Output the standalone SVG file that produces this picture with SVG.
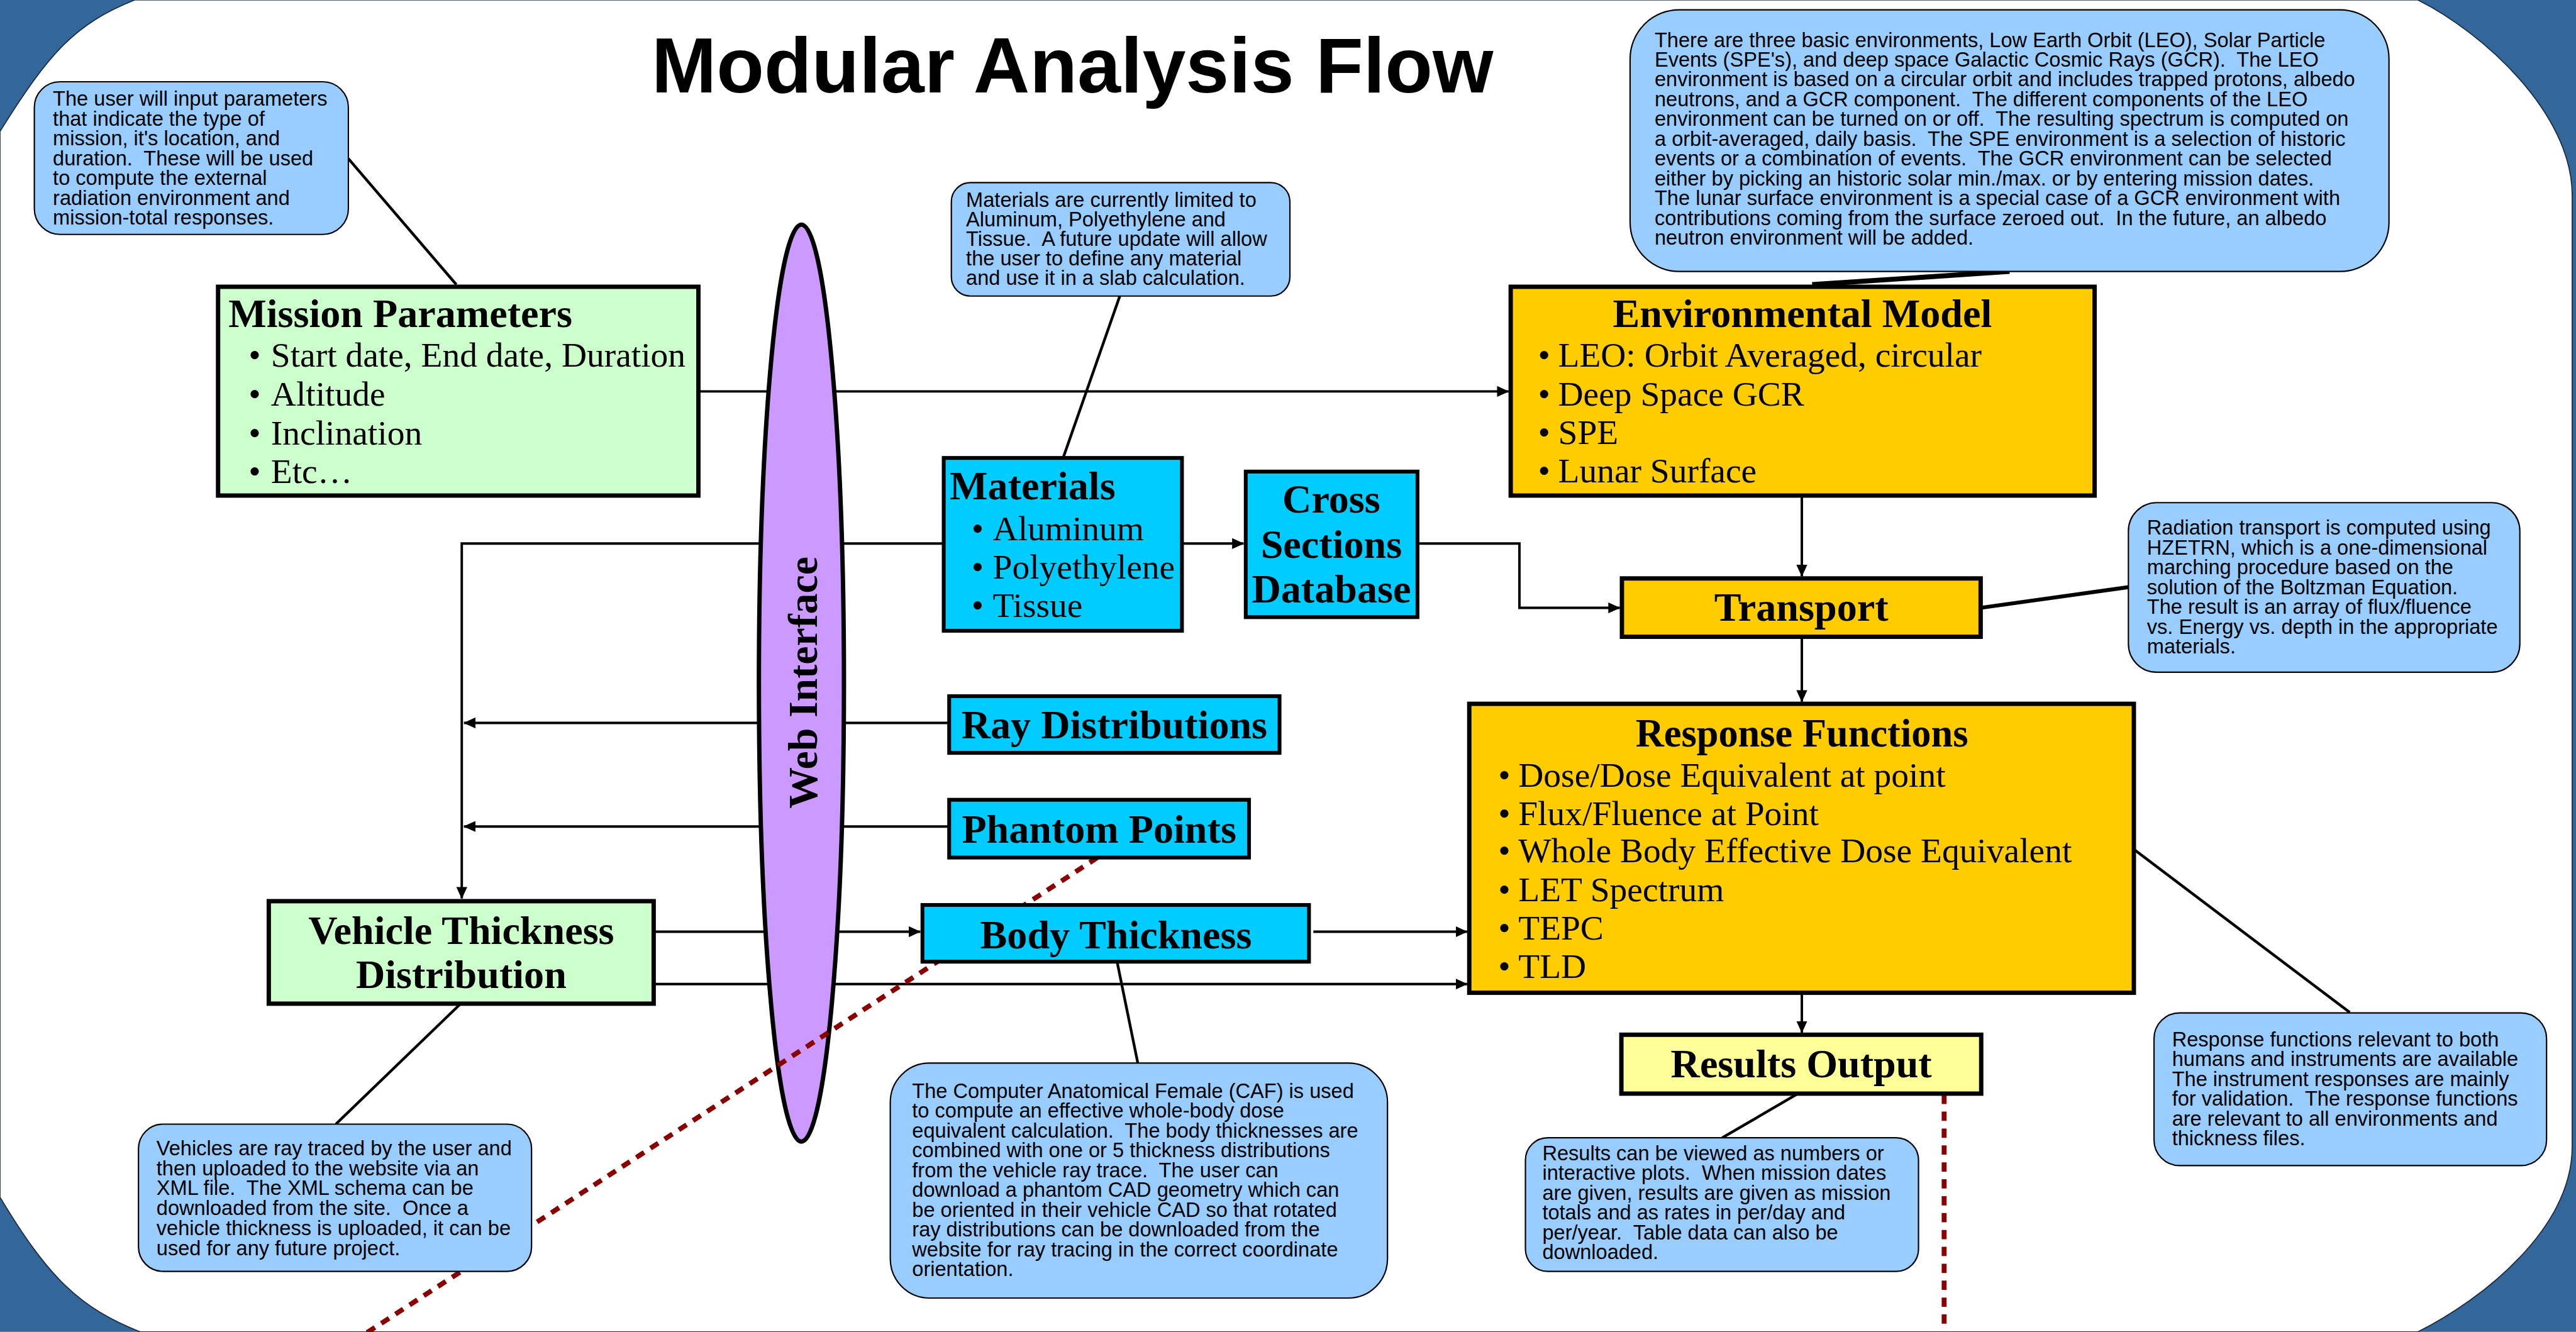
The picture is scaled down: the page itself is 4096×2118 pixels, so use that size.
<svg xmlns="http://www.w3.org/2000/svg" width="4096" height="2118" viewBox="0 0 4096 2118">
<style>
.bg{fill:#336699}
.page{fill:#ffffff;stroke:#1a2a40;stroke-width:2}
.title{font-family:"Liberation Sans",Arial,sans-serif;font-weight:bold;font-size:143px;fill:#000}
.box{stroke:#000;stroke-width:8}
.cbox{stroke:#000;stroke-width:7}
.green{fill:#CCFFCC}
.gold{fill:#FFCC00}
.cyan{fill:#00CCFF}
.pale{fill:#FFFF99}
.hd{font-family:"Liberation Serif","Times New Roman",serif;font-weight:bold;font-size:74px;fill:#000}
.bl{font-family:"Liberation Serif","Times New Roman",serif;font-size:64px;fill:#000}
.call rect{fill:#99CCFF;stroke:#000;stroke-width:2.5}
.ct{font-family:"Liberation Sans",Arial,sans-serif;font-size:37.6px;fill:#000;white-space:pre}
.conn{stroke:#000;stroke-width:4.5;fill:none}
.ptr{stroke:#000;stroke-width:5;fill:none}
.dash{stroke:#880000;stroke-width:9;fill:none;stroke-dasharray:17 14}
.mid{text-anchor:middle}
</style>
<defs>
<marker id="arr" markerUnits="userSpaceOnUse" markerWidth="22" markerHeight="20" refX="21" refY="10" orient="auto">
<path d="M0,0 L22,10 L0,20 z" fill="#000"/>
</marker>
</defs>
<g transform="scale(0.866878)">
<rect class="bg" x="0" y="0" width="4725" height="2443"/>
<path class="page" d="M0,241 C90,97 137,44 247,0 L4435,0 C4555,60 4718,208 4718,358 L4718,2103 C4718,2253 4555,2383 4435,2443 L257,2443 C147,2399 90,2346 0,2196 Z"/>

<text class="title mid" x="1967" y="170">Modular Analysis Flow</text>

<g id="connectors">
<path class="conn" d="M1281,718 L2767,718" marker-end="url(#arr)"/>
<path class="conn" d="M1731,997 L847,997 L847,1648" marker-end="url(#arr)"/>
<path class="conn" d="M1741,1326 L851,1326" marker-end="url(#arr)"/>
<path class="conn" d="M1741,1516 L851,1516" marker-end="url(#arr)"/>
<path class="conn" d="M2168,997 L2281,997" marker-end="url(#arr)"/>
<path class="conn" d="M2600,997 L2787,997 L2787,1115 L2971,1115" marker-end="url(#arr)"/>
<path class="conn" d="M3305,909 L3305,1057" marker-end="url(#arr)"/>
<path class="conn" d="M3305,1168 L3305,1287" marker-end="url(#arr)"/>
<path class="conn" d="M3305,1821 L3305,1894" marker-end="url(#arr)"/>
<path class="conn" d="M1199,1709 L1688,1709" marker-end="url(#arr)"/>
<path class="conn" d="M1199,1805 L2691,1805" marker-end="url(#arr)"/>
<path class="conn" d="M2409,1709 L2691,1709" marker-end="url(#arr)"/>
<line class="ptr" x1="639" y1="291" x2="837" y2="522"/>
<line class="ptr" x1="2054" y1="543" x2="1950" y2="840"/>
<line class="ptr" x1="3686" y1="498" x2="3324" y2="522" style="stroke-width:9"/>
<line class="ptr" x1="3633" y1="1115" x2="3904" y2="1077" style="stroke-width:7"/>
<line class="ptr" x1="3914" y1="1558" x2="4310" y2="1857"/>
<line class="ptr" x1="3298" y1="2006" x2="3159" y2="2087"/>
<line class="ptr" x1="2049" y1="1764" x2="2087" y2="1950"/>
<line class="ptr" x1="844" y1="1842" x2="616" y2="2062"/>
</g>

<g id="web-interface">
<ellipse cx="1470" cy="1253" rx="78" ry="841" fill="#CC99FF" stroke="#000" stroke-width="8"/>
<text class="hd mid" transform="translate(1499,1252) rotate(-90)" style="font-size:76px">Web Interface</text>
</g>

<g id="dashed-lines">
<line class="dash" x1="3566" y1="2008" x2="3566" y2="2443"/>
<line class="dash" x1="2013" y1="1573" x2="600" y2="2492"/>
</g>

<g id="note-mission" class="call">
<rect x="63" y="150" width="576" height="280" rx="47"/>
<text class="ct" x="97" y="194"><tspan x="97">The user will input parameters</tspan><tspan x="97" dy="36.3">that indicate the type of</tspan><tspan x="97" dy="36.3">mission, it's location, and</tspan><tspan x="97" dy="36.3">duration.  These will be used</tspan><tspan x="97" dy="36.3">to compute the external</tspan><tspan x="97" dy="36.3">radiation environment and</tspan><tspan x="97" dy="36.3">mission-total responses.</tspan></text>
</g>

<g id="mission-parameters">
<rect class="box green" x="400" y="526" width="881" height="383"/>
<text class="hd" x="419" y="600">Mission Parameters</text>
<text class="bl"><tspan x="456" y="673">•</tspan><tspan x="497" y="673">Start date, End date, Duration</tspan><tspan x="456" y="744">•</tspan><tspan x="497" y="744">Altitude</tspan><tspan x="456" y="815">•</tspan><tspan x="497" y="815">Inclination</tspan><tspan x="456" y="886">•</tspan><tspan x="497" y="886">Etc…</tspan></text>
</g>

<g id="note-materials" class="call">
<rect x="1745" y="335" width="621" height="208" rx="35"/>
<text class="ct" x="1772" y="379"><tspan x="1772">Materials are currently limited to</tspan><tspan x="1772" dy="35.8">Aluminum, Polyethylene and</tspan><tspan x="1772" dy="35.8">Tissue.  A future update will allow</tspan><tspan x="1772" dy="35.8">the user to define any material</tspan><tspan x="1772" dy="35.8">and use it in a slab calculation.</tspan></text>
</g>

<g id="materials">
<rect class="cbox cyan" x="1731" y="840" width="437" height="317"/>
<text class="hd" x="1742" y="916">Materials</text>
<text class="bl"><tspan x="1782" y="991">•</tspan><tspan x="1821" y="991">Aluminum</tspan><tspan x="1782" y="1061">•</tspan><tspan x="1821" y="1061">Polyethylene</tspan><tspan x="1782" y="1132">•</tspan><tspan x="1821" y="1132">Tissue</tspan></text>
</g>

<g id="cross-sections">
<rect class="cbox cyan" x="2285" y="865" width="315" height="267"/>
<text class="hd mid"><tspan x="2442" y="940">Cross</tspan><tspan x="2442" y="1023">Sections</tspan><tspan x="2442" y="1105">Database</tspan></text>
</g>

<g id="ray-distributions">
<rect class="cbox cyan" x="1741" y="1277" width="606" height="104"/>
<text class="hd mid" x="2044" y="1354">Ray Distributions</text>
</g>

<g id="phantom-points">
<rect class="cbox cyan" x="1741" y="1467" width="550" height="106"/>
<text class="hd mid" x="2016" y="1546">Phantom Points</text>
</g>

<g id="body-thickness">
<rect class="cbox cyan" x="1692" y="1660" width="709" height="104"/>
<text class="hd mid" x="2047" y="1739">Body Thickness</text>
</g>

<g id="note-environment" class="call">
<rect x="2990" y="18" width="1392" height="480" rx="90"/>
<text class="ct" x="3035" y="86"><tspan x="3035">There are three basic environments, Low Earth Orbit (LEO), Solar Particle</tspan><tspan x="3035" dy="36.3">Events (SPE's), and deep space Galactic Cosmic Rays (GCR).  The LEO</tspan><tspan x="3035" dy="36.3">environment is based on a circular orbit and includes trapped protons, albedo</tspan><tspan x="3035" dy="36.3">neutrons, and a GCR component.  The different components of the LEO</tspan><tspan x="3035" dy="36.3">environment can be turned on or off.  The resulting spectrum is computed on</tspan><tspan x="3035" dy="36.3">a orbit-averaged, daily basis.  The SPE environment is a selection of historic</tspan><tspan x="3035" dy="36.3">events or a combination of events.  The GCR environment can be selected</tspan><tspan x="3035" dy="36.3">either by picking an historic solar min./max. or by entering mission dates.</tspan><tspan x="3035" dy="36.3">The lunar surface environment is a special case of a GCR environment with</tspan><tspan x="3035" dy="36.3">contributions coming from the surface zeroed out.  In the future, an albedo</tspan><tspan x="3035" dy="36.3">neutron environment will be added.</tspan></text>
</g>

<g id="environmental-model">
<rect class="box gold" x="2771" y="526" width="1071" height="383"/>
<text class="hd mid" x="3306" y="600">Environmental Model</text>
<text class="bl"><tspan x="2821" y="672">•</tspan><tspan x="2858" y="672">LEO: Orbit Averaged, circular</tspan><tspan x="2821" y="744">•</tspan><tspan x="2858" y="744">Deep Space GCR</tspan><tspan x="2821" y="814">•</tspan><tspan x="2858" y="814">SPE</tspan><tspan x="2821" y="885">•</tspan><tspan x="2858" y="885">Lunar Surface</tspan></text>
</g>

<g id="transport">
<rect class="box gold" x="2975" y="1061" width="658" height="107"/>
<text class="hd mid" x="3304" y="1139">Transport</text>
</g>

<g id="note-transport" class="call">
<rect x="3904" y="922" width="718" height="311" rx="52"/>
<text class="ct" x="3938" y="981"><tspan x="3938">Radiation transport is computed using</tspan><tspan x="3938" dy="36.3">HZETRN, which is a one-dimensional</tspan><tspan x="3938" dy="36.3">marching procedure based on the</tspan><tspan x="3938" dy="36.3">solution of the Boltzman Equation.</tspan><tspan x="3938" dy="36.3">The result is an array of flux/fluence</tspan><tspan x="3938" dy="36.3">vs. Energy vs. depth in the appropriate</tspan><tspan x="3938" dy="36.3">materials.</tspan></text>
</g>

<g id="response-functions">
<rect class="box gold" x="2695" y="1291" width="1219" height="530"/>
<text class="hd mid" x="3305" y="1369" style="font-size:72px">Response Functions</text>
<text class="bl"><tspan x="2748" y="1443">•</tspan><tspan x="2785" y="1443">Dose/Dose Equivalent at point</tspan><tspan x="2748" y="1513">•</tspan><tspan x="2785" y="1513">Flux/Fluence at Point</tspan><tspan x="2748" y="1582">•</tspan><tspan x="2785" y="1582">Whole Body Effective Dose Equivalent</tspan><tspan x="2748" y="1653">•</tspan><tspan x="2785" y="1653">LET Spectrum</tspan><tspan x="2748" y="1723">•</tspan><tspan x="2785" y="1723">TEPC</tspan><tspan x="2748" y="1794">•</tspan><tspan x="2785" y="1794">TLD</tspan></text>
</g>

<g id="note-response" class="call">
<rect x="3951" y="1858" width="720" height="280" rx="47"/>
<text class="ct" x="3984" y="1919"><tspan x="3984">Response functions relevant to both</tspan><tspan x="3984" dy="36.4">humans and instruments are available</tspan><tspan x="3984" dy="36.4">The instrument responses are mainly</tspan><tspan x="3984" dy="36.4">for validation.  The response functions</tspan><tspan x="3984" dy="36.4">are relevant to all environments and</tspan><tspan x="3984" dy="36.4">thickness files.</tspan></text>
</g>

<g id="results-output">
<rect class="box pale" x="2974" y="1898" width="660" height="108"/>
<text class="hd mid" x="3304" y="1976">Results Output</text>
</g>

<g id="note-results" class="call">
<rect x="2798" y="2087" width="721" height="245" rx="41"/>
<text class="ct" x="2829" y="2128"><tspan x="2829">Results can be viewed as numbers or</tspan><tspan x="2829" dy="36.4">interactive plots.  When mission dates</tspan><tspan x="2829" dy="36.4">are given, results are given as mission</tspan><tspan x="2829" dy="36.4">totals and as rates in per/day and</tspan><tspan x="2829" dy="36.4">per/year.  Table data can also be</tspan><tspan x="2829" dy="36.4">downloaded.</tspan></text>
</g>

<g id="vehicle-thickness">
<rect class="box green" x="493" y="1653" width="706" height="188"/>
<text class="hd mid"><tspan x="846" y="1731">Vehicle Thickness</tspan><tspan x="846" y="1812">Distribution</tspan></text>
</g>

<g id="note-vehicles" class="call">
<rect x="254" y="2062" width="721" height="270" rx="45"/>
<text class="ct" x="287" y="2119"><tspan x="287">Vehicles are ray traced by the user and</tspan><tspan x="287" dy="36.6">then uploaded to the website via an</tspan><tspan x="287" dy="36.6">XML file.  The XML schema can be</tspan><tspan x="287" dy="36.6">downloaded from the site.  Once a</tspan><tspan x="287" dy="36.6">vehicle thickness is uploaded, it can be</tspan><tspan x="287" dy="36.6">used for any future project.</tspan></text>
</g>

<g id="note-caf" class="call">
<rect x="1633" y="1950" width="912" height="431" rx="72"/>
<text class="ct" x="1673" y="2014"><tspan x="1673">The Computer Anatomical Female (CAF) is used</tspan><tspan x="1673" dy="36.3">to compute an effective whole-body dose</tspan><tspan x="1673" dy="36.3">equivalent calculation.  The body thicknesses are</tspan><tspan x="1673" dy="36.3">combined with one or 5 thickness distributions</tspan><tspan x="1673" dy="36.3">from the vehicle ray trace.  The user can</tspan><tspan x="1673" dy="36.3">download a phantom CAD geometry which can</tspan><tspan x="1673" dy="36.3">be oriented in their vehicle CAD so that rotated</tspan><tspan x="1673" dy="36.3">ray distributions can be downloaded from the</tspan><tspan x="1673" dy="36.3">website for ray tracing in the correct coordinate</tspan><tspan x="1673" dy="36.3">orientation.</tspan></text>
</g>
</g>
</svg>
